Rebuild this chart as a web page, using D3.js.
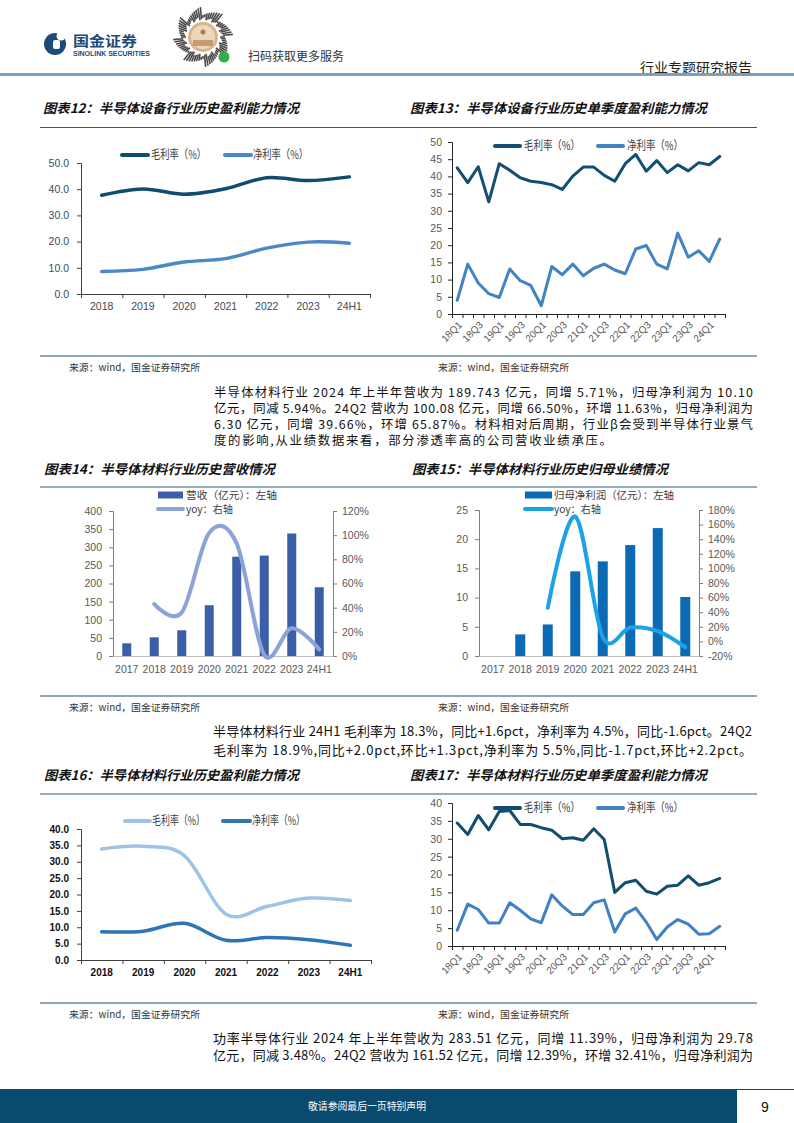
<!DOCTYPE html>
<html><head><meta charset="utf-8">
<script src="https://cdn.jsdelivr.net/npm/d3@7"></script>
<style>body{margin:0;background:#fff}svg{display:block}</style>
</head><body>
<svg id="page" width="794" height="1123"></svg>
<script>
// ---------------- DATA ----------------
const years7 = ["2018","2019","2020","2021","2022","2023","24H1"];
const years8 = ["2017","2018","2019","2020","2021","2022","2023","24H1"];
const quarters = ["18Q1","18Q2","18Q3","18Q4","19Q1","19Q2","19Q3","19Q4","20Q1","20Q2","20Q3","20Q4",
  "21Q1","21Q2","21Q3","21Q4","22Q1","22Q2","22Q3","22Q4","23Q1","23Q2","23Q3","23Q4","24Q1","24Q2"];

// 图表12 半导体设备 年度
const eqGross = [37.7, 40.1, 38.1, 40.2, 44.4, 43.3, 44.7];
const eqNet   = [8.6, 9.4, 12.2, 13.5, 17.5, 19.8, 19.4];
// 图表13 半导体设备 单季度
const eqGrossQ = [42.5,38.2,42.8,32.6,43.7,41.8,39.6,38.6,38.2,37.6,36.2,40.1,42.7,42.7,40.3,38.6,43.7,46.4,41.5,44.6,41.1,43.4,41.6,44.0,43.4,45.8];
const eqNetQ   = [4.0,14.5,9.0,5.9,4.8,13.1,9.7,8.3,2.4,13.8,11.4,14.5,11.1,13.3,14.5,12.8,11.7,18.9,19.9,14.5,13.1,23.5,16.5,18.4,15.3,21.8];
// 图表14 半导体材料 营收
const matRevenue = [35, 51.5, 71, 140, 274, 277, 338, 189.7];
const matRevYoy  = [null, 43, 36, 102, 93, 1, 23, 5.5];
// 图表15 半导体材料 归母净利润
const matProfit    = [null, 3.7, 5.4, 14.5, 16.2, 19.0, 21.9, 10.1];
const matProfitYoy = [null, null, 46, 171, 6, 19, 14, -8];
// 图表16 半导体材料 年度
const matGross = [33.9, 34.7, 31.8, 14.0, 16.4, 18.9, 18.2];
const matNet   = [8.6, 8.8, 11.2, 6.0, 6.9, 6.2, 4.5];
// 图表17 半导体材料 单季度
const matGrossQ = [34.4,31.2,36.5,32.5,37.6,37.9,34.0,34.0,33.1,32.4,30.0,30.3,29.6,32.8,29.8,15.0,17.7,18.4,15.3,14.5,16.7,17.0,19.6,17.0,17.7,18.9];
const matNetQ   = [4.4,11.7,10.2,6.4,6.4,12.1,10.0,7.6,6.5,14.3,11.2,8.8,8.8,12.1,12.9,3.9,9.0,10.6,6.7,1.8,5.3,7.4,6.1,3.3,3.4,5.5];

const ticks50by10 = [0,10,20,30,40,50];
const ticks50by5 = [0,5,10,15,20,25,30,35,40,45,50];
const ticks40by5 = [0,5,10,15,20,25,30,35,40];
const ticks400 = [0,50,100,150,200,250,300,350,400];
const ticksPct120 = [0,20,40,60,80,100,120];
const ticks25 = [0,5,10,15,20,25];
const ticksPct180 = [-20,0,20,40,60,80,100,120,140,160,180];

// ---------------- HELPERS ----------------
const CJK = "'Noto Sans CJK SC','Noto Sans',sans-serif";
const LAT = "'Liberation Sans',Arial,'Noto Sans CJK SC',sans-serif";
const svg = d3.select("#page");

function text(parent, x, y, s, o = {}) {
  const t = parent.append("text").attr("x", x).attr("y", y).text(s)
    .attr("font-family", o.family || CJK).attr("font-size", o.size || 12)
    .attr("fill", o.fill || "#000");
  if (o.anchor) t.attr("text-anchor", o.anchor);
  if (o.weight) t.attr("font-weight", o.weight);
  if (o.style) t.attr("font-style", o.style);
  if (o.len) t.attr("textLength", o.len).attr("lengthAdjust", o.adjust || "spacingAndGlyphs");
  return t;
}
function hline(x1, x2, y, color, w) {
  svg.append("line").attr("x1", x1).attr("x2", x2).attr("y1", y).attr("y2", y)
    .attr("stroke", color).attr("stroke-width", w);
}

// ---------------- HEADER ----------------
const hdr = svg.append("g");
hdr.append("circle").attr("cx", 55).attr("cy", 44).attr("r", 11).attr("fill", "#1b4b78");
hdr.append("circle").attr("cx", 61).attr("cy", 36).attr("r", 4.5).attr("fill", "#fff");
hdr.append("rect").attr("x", 53).attr("y", 40).attr("width", 7).attr("height", 9).attr("rx", 2).attr("fill", "#fff");
text(hdr, 73, 46, "国金证券", {size: 14, weight: "bold", fill: "#1b4b78", len: 64});
text(hdr, 73, 55.5, "SINOLINK SECURITIES", {family: LAT, size: 6.3, weight: "bold", fill: "#1b4b78", len: 77});
// mini-program code (decorative)
const qr = hdr.append("g").attr("transform", "translate(203,37)");
d3.range(72).forEach(i => {
  const a = i * Math.PI * 2 / 72;
  const r1 = 17 + (i * 5) % 4, r2 = 22 + (i * 37) % 9;
  qr.append("line").attr("x1", r1 * Math.cos(a)).attr("y1", r1 * Math.sin(a))
    .attr("x2", r2 * Math.cos(a)).attr("y2", r2 * Math.sin(a))
    .attr("stroke", "#4a4a4a").attr("stroke-width", 1.6);
});
qr.append("circle").attr("r", 15).attr("fill", "#d8b48e");
qr.append("circle").attr("r", 12).attr("fill", "#ecd6bd");
qr.append("rect").attr("x", -10).attr("y", 3).attr("width", 20).attr("height", 6).attr("fill", "#c99a6c");
qr.append("circle").attr("cy", -5).attr("r", 2.5).attr("fill", "#b07a4c");
hdr.append("circle").attr("cx", 224).attr("cy", 57).attr("r", 5.5).attr("fill", "#2fae4b");
text(hdr, 248, 61, "扫码获取更多服务", {size: 12, fill: "#333"});
text(hdr, 640, 72, "行业专题研究报告", {size: 13, fill: "#222", len: 112});
hline(0, 794, 74.5, "#7e9ebb", 3);

// ---------------- CHART HELPERS ----------------
function styleAxis(g, color, lblColor, size, weight) {
  g.select(".domain").attr("stroke", color);
  g.selectAll(".tick line").attr("stroke", color);
  g.selectAll(".tick text").attr("fill", lblColor).attr("font-family", LAT)
    .attr("font-size", size).attr("font-weight", weight || "normal");
}

function title(x, y, s, len) {
  text(svg, x, y, s, {size: 13, weight: "bold", style: "italic", fill: "#111", len: len});
}

function lineLegend(items, y) {
  items.forEach(it => {
    svg.append("line").attr("x1", it.x1).attr("x2", it.x2).attr("y1", y).attr("y2", y)
      .attr("stroke", it.color).attr("stroke-width", 4).attr("stroke-linecap", "round");
    text(svg, it.tx, y + 4.3, it.label, {size: 12, fill: "#404040", len: it.len});
  });
}

function lineChart(c) {
  const g = svg.append("g");
  const x = d3.scaleBand().domain(c.cats).range([c.xL, c.xR]);
  const y = d3.scaleLinear().domain(c.domain).range([c.yB, c.yT]);
  const ya = d3.axisLeft(y).tickValues(c.ticks).tickFormat(c.fmt).tickSize(4).tickPadding(c.ypad);
  const yg = g.append("g").attr("transform", `translate(${c.xL},0)`).call(ya);
  styleAxis(yg, c.axisColor, c.lblColor, c.lblSize, c.lblWeight);
  const bnd = d3.scaleLinear().domain([0, c.cats.length]).range([c.xL, c.xR]);
  const xa = d3.axisBottom(bnd).tickValues(d3.range(c.cats.length + 1)).tickFormat("").tickSize(4).tickSizeOuter(0);
  const xg = g.append("g").attr("transform", `translate(0,${c.yB})`).call(xa);
  styleAxis(xg, c.axisColor, c.lblColor, c.lblSize);
  const bw = x.bandwidth();
  if (c.rotate) {
    c.cats.forEach((d, i) => {
      if (i % 2) return;
      g.append("text").text(d)
        .attr("transform", `translate(${x(d) + bw / 2 + 3},${c.yB + 9}) rotate(-45)`)
        .attr("text-anchor", "end").attr("dy", "0.35em")
        .attr("font-family", LAT).attr("font-size", 10).attr("fill", c.lblColor);
    });
  } else {
    c.cats.forEach(d => {
      g.append("text").text(d).attr("x", x(d) + bw / 2).attr("y", c.xLabelY)
        .attr("text-anchor", "middle").attr("font-family", LAT).attr("font-size", c.lblSize)
        .attr("font-weight", c.lblWeight || "normal").attr("fill", c.lblColor);
    });
  }
  c.series.forEach(s => {
    const line = d3.line().x((d, i) => x(c.cats[i]) + bw / 2).y(d => y(d)).curve(c.curve);
    g.append("path").datum(s.vals).attr("d", line).attr("fill", "none")
      .attr("stroke", s.color).attr("stroke-width", s.w)
      .attr("stroke-linejoin", "round").attr("stroke-linecap", "round");
  });
}

function dualChart(c) {
  const g = svg.append("g");
  const x = d3.scaleBand().domain(c.cats).range([c.xL, c.xR]);
  const yl = d3.scaleLinear().domain(c.lDomain).range([c.yB, c.yT]);
  const yr = d3.scaleLinear().domain(c.rDomain).range([c.yB, c.yT]);
  const bw = x.bandwidth();
  // bars
  g.selectAll("rect.bar").data(c.bars.map((v, i) => ({v, cat: c.cats[i]})).filter(d => d.v != null))
    .join("rect").attr("x", d => x(d.cat) + bw / 2 - c.barW / 2).attr("width", c.barW)
    .attr("y", d => yl(d.v)).attr("height", d => yl(0) - yl(d.v)).attr("fill", c.barColor);
  // axes
  const la = d3.axisLeft(yl).tickValues(c.lTicks).tickSize(4).tickPadding(7).tickFormat(d3.format("d"));
  const lg = g.append("g").attr("transform", `translate(${c.xL},0)`).call(la);
  styleAxis(lg, "#7f7f7f", "#595959", 10.5);
  const ra = d3.axisRight(yr).tickValues(c.rTicks).tickSize(4).tickPadding(5).tickFormat(d => d + "%");
  const rg = g.append("g").attr("transform", `translate(${c.xR},0)`).call(ra);
  styleAxis(rg, "#7f7f7f", "#595959", 10.5);
  const xa = d3.axisBottom(x).tickSize(0).tickPadding(10).tickSizeOuter(0);
  const xg = g.append("g").attr("transform", `translate(0,${c.yB})`).call(xa);
  styleAxis(xg, "#bfbfbf", "#595959", 10.5);
  xg.selectAll(".tick text").attr("dy", "0.71em");
  // line
  const line = d3.line().defined(d => d.v != null)
    .x(d => x(d.cat) + bw / 2).y(d => yr(d.v)).curve(d3.curveCardinal.tension(0));
  const pts = c.line.map((v, i) => ({v, cat: c.cats[i]})).filter(d => d.v != null);
  g.append("path").datum(pts).attr("d", line).attr("fill", "none")
    .attr("stroke", c.lineColor).attr("stroke-width", 4).attr("stroke-linecap", "round");
  // legend
  const L = c.legend;
  g.append("rect").attr("x", L.x1).attr("y", L.y1 - 3.5).attr("width", L.x2 - L.x1).attr("height", 7).attr("fill", c.barColor);
  text(g, L.tx, L.y1 + 3.8, L.barLabel, {size: 10.5, fill: "#404040", len: L.barLen});
  g.append("line").attr("x1", L.x1).attr("x2", L.x2).attr("y1", L.y2).attr("y2", L.y2)
    .attr("stroke", c.lineColor).attr("stroke-width", 4).attr("stroke-linecap", "round");
  text(g, L.tx, L.y2 + 3.8, "yoy：右轴", {size: 10.5, fill: "#404040", len: L.lineLen});
}

const smooth = d3.curveCardinal.tension(0);

// ---------------- SECTION 1: 图表12 / 13 ----------------
title(43, 113, "图表12：半导体设备行业历史盈利能力情况", 256);
title(410, 113, "图表13：半导体设备行业历史单季度盈利能力情况", 297);
hline(40, 757, 127.5, "#2a5d80", 1.2);

lineChart({cats: years7, xL: 81, xR: 370, yT: 163, yB: 294, domain: [0, 50], ticks: ticks50by10,
  fmt: d3.format(".1f"), ypad: 8, axisColor: "#404040", lblColor: "#3d4b5c", lblSize: 10.5, xLabelY: 310,
  curve: smooth,
  series: [{vals: eqGross, color: "#0f4c6e", w: 3.5}, {vals: eqNet, color: "#4a88c6", w: 3.5}]});
lineLegend([
  {x1: 122, x2: 148, tx: 151, label: "毛利率（%）", color: "#0f4c6e", len: 55},
  {x1: 225, x2: 251, tx: 253, label: "净利率（%）", color: "#4a88c6", len: 55}], 155);

lineChart({cats: quarters, xL: 452, xR: 725, yT: 142, yB: 314, domain: [0, 50], ticks: ticks50by5,
  fmt: d3.format("d"), ypad: 6, axisColor: "#262626", lblColor: "#595959", lblSize: 10.5, rotate: true,
  curve: d3.curveLinear,
  series: [{vals: eqGrossQ, color: "#124f72", w: 3}, {vals: eqNetQ, color: "#4283c3", w: 3}]});
lineLegend([
  {x1: 495, x2: 520, tx: 524, label: "毛利率（%）", color: "#124f72", len: 56},
  {x1: 598, x2: 623, tx: 627, label: "净利率（%）", color: "#4283c3", len: 56}], 146);

hline(40, 757, 356, "#1f4e6e", 1);
text(svg, 69, 371, "来源：wind，国金证券研究所", {size: 9.5, fill: "#333", len: 131});
text(svg, 438, 371, "来源：wind，国金证券研究所", {size: 9.5, fill: "#333", len: 131});

// ---------------- PARAGRAPH 1 ----------------
const p1 = [
  ["半导体材料行业 2024 年上半年营收为 189.743 亿元，同增 5.71%，归母净利润为 10.10", 539],
  ["亿元，同减 5.94%。24Q2 营收为 100.08 亿元，同增 66.50%，环增 11.63%，归母净利润为", 539],
  ["6.30 亿元，同增 39.66%，环增 65.87%。材料相对后周期，行业β会受到半导体行业景气", 539],
  ["度的影响,从业绩数据来看，部分渗透率高的公司营收业绩承压。", 398]];
p1.forEach((d, i) => text(svg, 214, 396.5 + i * 16.3, d[0], {size: 12.4, fill: "#111", len: d[1], adjust: "spacing"}));

// ---------------- SECTION 2: 图表14 / 15 ----------------
title(44, 474, "图表14：半导体材料行业历史营收情况", 231);
title(412, 474, "图表15：半导体材料行业历史归母业绩情况", 256);
hline(40, 757, 487, "#2a5d80", 1.2);

dualChart({cats: years8, xL: 113, xR: 333, yT: 511, yB: 656, lDomain: [0, 400], lTicks: ticks400,
  rDomain: [0, 120], rTicks: ticksPct120, bars: matRevenue, barColor: "#3b5ea9", barW: 9,
  line: matRevYoy, lineColor: "#8da2d6",
  legend: {x1: 158, x2: 183, tx: 186, y1: 495, y2: 509, barLabel: "营收（亿元）：左轴", barLen: 91, lineLen: 47}});

dualChart({cats: years8, xL: 479, xR: 699, yT: 510, yB: 656, lDomain: [0, 25], lTicks: ticks25,
  rDomain: [-20, 180], rTicks: ticksPct180, bars: matProfit, barColor: "#0b6ab4", barW: 10,
  line: matProfitYoy, lineColor: "#1ca2e6",
  legend: {x1: 525, x2: 552, tx: 554, y1: 495, y2: 509, barLabel: "归母净利润（亿元）：左轴", barLen: 120, lineLen: 47}});

hline(40, 757, 696, "#1f4e6e", 1);
text(svg, 69, 710.5, "来源：wind，国金证券研究所", {size: 9.5, fill: "#333", len: 131});
text(svg, 438, 710.5, "来源：wind，国金证券研究所", {size: 9.5, fill: "#333", len: 131});

// ---------------- PARAGRAPH 2 ----------------
const p2 = [
  ["半导体材料行业 24H1 毛利率为 18.3%，同比+1.6pct，净利率为 4.5%，同比-1.6pct。24Q2", 539],
  ["毛利率为 18.9%,同比+2.0pct,环比+1.3pct,净利率为 5.5%,同比-1.7pct,环比+2.2pct。", 539]];
p2.forEach((d, i) => text(svg, 213, 736 + i * 18.5, d[0], {size: 13, fill: "#111", len: d[1], adjust: "spacing"}));

// ---------------- SECTION 3: 图表16 / 17 ----------------
title(44, 780, "图表16：半导体材料行业历史盈利能力情况", 255);
title(410, 780, "图表17：半导体材料行业历史单季度盈利能力情况", 297);
hline(40, 757, 794, "#2a5d80", 1.2);

lineChart({cats: years7, xL: 81, xR: 371, yT: 829, yB: 960, domain: [0, 40], ticks: ticks40by5,
  fmt: d3.format(".1f"), ypad: 8, axisColor: "#404040", lblColor: "#111", lblSize: 10, lblWeight: "bold", xLabelY: 976,
  curve: smooth,
  series: [{vals: matGross, color: "#9dc3e6", w: 3.5}, {vals: matNet, color: "#2e75b6", w: 3.5}]});
lineLegend([
  {x1: 125, x2: 150, tx: 152, label: "毛利率（%）", color: "#9dc3e6", len: 53},
  {x1: 223, x2: 250, tx: 252, label: "净利率（%）", color: "#2e75b6", len: 53}], 821);

lineChart({cats: quarters, xL: 452, xR: 725, yT: 803, yB: 946, domain: [0, 40], ticks: ticks40by5,
  fmt: d3.format("d"), ypad: 6, axisColor: "#262626", lblColor: "#595959", lblSize: 10.5, rotate: true,
  curve: d3.curveLinear,
  series: [{vals: matGrossQ, color: "#114d6f", w: 3}, {vals: matNetQ, color: "#4181c1", w: 3}]});
lineLegend([
  {x1: 495, x2: 520, tx: 524, label: "毛利率（%）", color: "#114d6f", len: 56},
  {x1: 598, x2: 623, tx: 627, label: "净利率（%）", color: "#4181c1", len: 56}], 808);

hline(40, 757, 1003, "#1f4e6e", 1);
text(svg, 69, 1017.5, "来源：wind，国金证券研究所", {size: 9.5, fill: "#333", len: 131});
text(svg, 438, 1017.5, "来源：wind，国金证券研究所", {size: 9.5, fill: "#333", len: 131});

// ---------------- PARAGRAPH 3 ----------------
const p3 = [
  ["功率半导体行业 2024 年上半年营收为 283.51 亿元，同增 11.39%，归母净利润为 29.78", 540],
  ["亿元，同减 3.48%。24Q2 营收为 161.52 亿元，同增 12.39%，环增 32.41%，归母净利润为", 540]];
p3.forEach((d, i) => text(svg, 213, 1042.7 + i * 16.8, d[0], {size: 13, fill: "#111", len: d[1], adjust: "spacing"}));

// ---------------- FOOTER ----------------
svg.append("rect").attr("x", 0).attr("y", 1089).attr("width", 737).attr("height", 34).attr("fill", "#0b4a6f");
hline(737, 794, 1089.5, "#0b4a6f", 1);
text(svg, 367, 1110, "敬请参阅最后一页特别声明", {size: 10, fill: "#fff", anchor: "middle", len: 118});
text(svg, 765, 1112, "9", {family: LAT, size: 14, fill: "#111", anchor: "middle"});
</script>
</body></html>
